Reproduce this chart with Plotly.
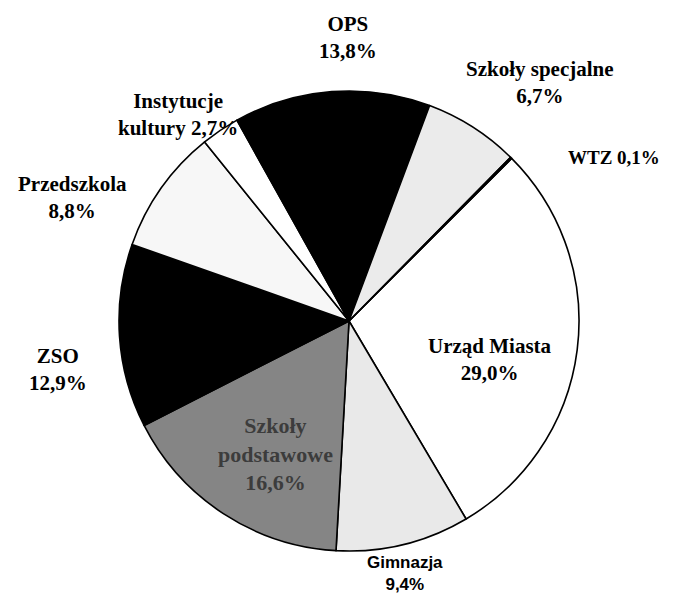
import plotly.graph_objects as go

# ---- data ----
labels = ["Urząd Miasta", "Gimnazja", "Szkoły podstawowe", "ZSO", "Przedszkola",
          "Instytucje kultury", "OPS", "Szkoły specjalne", "WTZ"]
values = [29.0, 9.4, 16.6, 12.9, 8.8, 2.7, 13.8, 6.7, 0.1]
# label text as shown on the chart (line breaks)
label_text = ["Urząd Miasta", "Gimnazja", "Szkoły<br>podstawowe", "ZSO", "Przedszkola",
              "Instytucje<br>kultury", "OPS", "Szkoły specjalne", "WTZ"]
label_sep = ["<br>", "<br>", "<br>", "<br>", "<br>", " ", "<br>", "<br>", " "]

# ---- style ----
colors = ["#ffffff", "#e9e9e9", "#858585", "#000000", "#f7f7f7",
          "#ffffff", "#000000", "#ebebeb", "#ffffff"]
# label centre positions in pixels (x, y) as seen in the window
label_pos = [(490, 359), (405, 573), (275, 454), (58, 369), (72, 198),
             (178, 114), (348, 37), (540, 82), (614, 157)]
label_font = ["Liberation Serif"] * 9
label_font[1] = "Liberation Sans"
label_size = [21] * 9
label_size[1] = 17
label_size[2] = 22
label_size[8] = 19
label_color = ["#000000"] * 9
label_color[2] = "#3c3c3c"

W, H = 675, 595
OFF = 8  # page body margin in the browser
cx, cy, r = 349 - OFF, 321 - OFF, 230

fig = go.Figure(go.Pie(
    labels=labels, values=values, sort=False, direction="clockwise", rotation=45,
    marker=dict(colors=colors, line=dict(color="#000000", width=1.6)),
    textinfo="none", showlegend=False,
    domain=dict(x=[(cx - r) / W, (cx + r) / W], y=[1 - (cy + r) / H, 1 - (cy - r) / H]),
))

for lt, sep, v, (px, py), fnt, sz, col in zip(label_text, label_sep, values, label_pos,
                                             label_font, label_size, label_color):
    txt = "<b>" + lt + sep + f"{v:.1f}".replace(".", ",") + "%</b>"
    fig.add_annotation(x=(px - OFF) / W, y=1 - (py - OFF) / H, xref="paper", yref="paper",
                       text=txt, showarrow=False, xanchor="center", yanchor="middle",
                       font=dict(family=fnt, size=sz, color=col), align="center")

fig.update_layout(width=W, height=H, margin=dict(l=0, r=0, t=0, b=0),
                  paper_bgcolor="white", plot_bgcolor="white")
fig.write_html("out.html")
